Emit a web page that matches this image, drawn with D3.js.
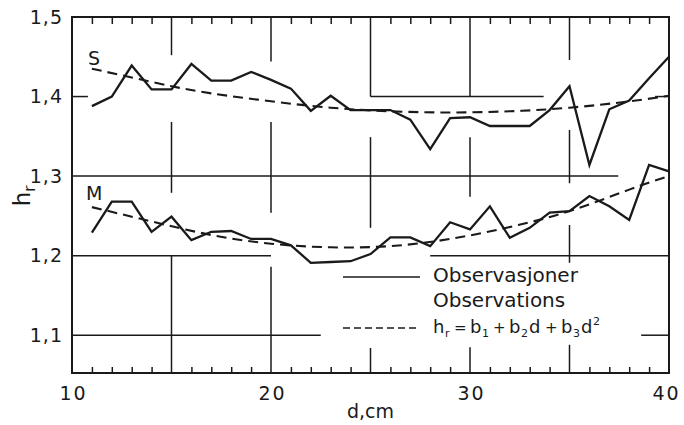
<!DOCTYPE html>
<html>
<head>
<meta charset="utf-8">
<script src="https://cdn.jsdelivr.net/npm/d3@7/dist/d3.min.js"></script>
<style>
  body { margin: 0; background: #fff; }
  svg { display: block; }
  text { font-family: "DejaVu Sans", sans-serif; fill: #1a1a1a; }
</style>
</head>
<body>
<svg id="chart" width="684" height="425"></svg>
<script>
// Diameter classes (cm) with observed ratio h_r
const diameters = [11,12,13,14,15,16,17,18,19,20,21,22,23,24,25,26,27,28,29,30,31,32,33,34,35,36,37,38,39,40];
const obsS = [1.388,1.400,1.439,1.409,1.409,1.441,1.420,1.420,1.431,1.421,1.410,1.382,1.401,1.383,1.383,1.383,1.371,1.334,1.373,1.374,1.363,1.363,1.363,1.383,1.413,1.314,1.384,1.395,1.423,1.450];
const obsM = [1.229,1.268,1.268,1.230,1.249,1.2195,1.230,1.231,1.221,1.221,1.213,1.191,1.192,1.193,1.202,1.223,1.223,1.212,1.242,1.233,1.262,1.2225,1.235,1.254,1.256,1.275,1.262,1.245,1.314,1.306];

// Fitted quadratic h_r = b1 + b2 d + b3 d^2, sampled along d
const fitSd = [11,13,15,17,20,23,26,29,32,35,38,40];
const fitS  = [1.435,1.424,1.413,1.404,1.394,1.386,1.3815,1.380,1.3815,1.386,1.394,1.401];
const fitMd = [11,14,17,20,23,26,29,32,35,38,40];
const fitM  = [1.261,1.243,1.226,1.215,1.2105,1.212,1.221,1.236,1.256,1.283,1.300];

const xTicks = [10,20,30,40];
const yTicks = [1.1,1.2,1.3,1.4,1.5];
const minorTicks = [11,12,13,14,16,17,18,19,21,22,23,24,26,27,28,29,31,32,33,34,36,37,38,39];

// Broken reference lines of the form: [h, d from, d to] and [d, h from, h to]
const hGrid = [
  [1.4, 10, 10.8], [1.4, 25, 33.7], [1.4, 39.3, 40],
  [1.3, 10, 37.45],
  [1.2, 10, 20], [1.2, 28, 40],
  [1.1, 10, 22.5], [1.1, 38.6, 40]
];
const yMin = 1.0525, yMax = 1.5;
const vGrid = [
  [15, 1.5, 1.452], [15, 1.368, 1.279], [15, 1.2, yMin],
  [20, 1.5, 1.444], [20, 1.368, 1.254], [20, 1.186, yMin],
  [25, 1.5, 1.4], [25, 1.349, 1.235], [25, 1.084, yMin],
  [30, 1.5, 1.4], [30, 1.349, 1.274], [30, 1.085, yMin],
  [35, 1.5, 1.446], [35, 1.358, 1.291], [35, 1.2385, 1.191], [35, 1.088, yMin]
];

const svg = d3.select("#chart");
const x = d3.scaleLinear().domain([10, 40]).range([72, 669]);
const y = d3.scaleLinear().domain([yMin, yMax]).range([373, 17]);
const ink = "#1a1a1a";

// reference lines
const grid = svg.append("g").attr("stroke", ink).attr("stroke-width", 1.5).attr("fill", "none");
grid.selectAll("line.h").data(hGrid).join("line").attr("class", "h")
  .attr("x1", d => x(d[1])).attr("x2", d => x(d[2]))
  .attr("y1", d => y(d[0])).attr("y2", d => y(d[0]));
grid.selectAll("line.v").data(vGrid).join("line").attr("class", "v")
  .attr("x1", d => x(d[0])).attr("x2", d => x(d[0]))
  .attr("y1", d => y(d[1])).attr("y2", d => y(d[2]));

// minor ticks, top and bottom, pointing inward
const tTop = svg.append("g").attr("transform", `translate(0,${y(yMax)})`)
  .call(d3.axisTop(x).tickValues(minorTicks).tickSize(-7).tickFormat(""));
const tBot = svg.append("g").attr("transform", `translate(0,${y(yMin)})`)
  .call(d3.axisBottom(x).tickValues(minorTicks).tickSize(-6).tickFormat(""));
[tTop, tBot].forEach(g => {
  g.select(".domain").remove();
  g.selectAll(".tick line").attr("stroke", ink).attr("stroke-width", 1.5);
});

// frame
svg.append("rect")
  .attr("x", x(10)).attr("y", y(yMax))
  .attr("width", x(40) - x(10)).attr("height", y(yMin) - y(yMax))
  .attr("fill", "none").attr("stroke", ink).attr("stroke-width", 2);

// tick labels
const yAxis = svg.append("g").attr("transform", `translate(${x(10)},0)`)
  .call(d3.axisLeft(y).tickValues(yTicks).tickSize(0).tickPadding(9)
    .tickFormat(d => d3.format(".1f")(d).replace(".", ",")));
const xAxis = svg.append("g").attr("transform", `translate(0,${y(yMin)})`)
  .call(d3.axisBottom(x).tickValues(xTicks).tickSize(0).tickPadding(14)
    .tickFormat(d3.format("d")));
[yAxis, xAxis].forEach(g => {
  g.select(".domain").remove();
  g.selectAll(".tick text").attr("font-size", 19).attr("fill", ink)
    .attr("letter-spacing", 1)
    .attr("font-family", '"DejaVu Sans", sans-serif');
});
xAxis.selectAll(".tick text").attr("letter-spacing", 2)
  .attr("dx", d => d === 40 ? -3 : 1);

// axis titles
svg.append("text").attr("x", x(25)).attr("y", 418).attr("text-anchor", "middle")
  .attr("font-size", 19).text("d,cm");
const yt = svg.append("text").attr("transform", `translate(30,${y(1.275)}) rotate(-90)`)
  .attr("text-anchor", "middle").attr("font-size", 23);
yt.append("tspan").text("h");
yt.append("tspan").attr("font-size", 15).attr("dy", 5).text("r");

// series
const line = d3.line().x(d => x(d[0])).y(d => y(d[1]));
const fitLine = d3.line().x(d => x(d[0])).y(d => y(d[1])).curve(d3.curveNatural);
const plot = svg.append("g").attr("fill", "none").attr("stroke", ink);

[obsS, obsM].forEach(vals => {
  plot.append("path").datum(diameters.map((d, i) => [d, vals[i]]))
    .attr("stroke-width", 2.3).attr("stroke-linejoin", "miter").attr("d", line);
});
[[fitSd, fitS], [fitMd, fitM]].forEach(([ds, vals]) => {
  plot.append("path").datum(ds.map((d, i) => [d, vals[i]]))
    .attr("stroke-width", 2.1).attr("stroke-dasharray", "10,6").attr("d", fitLine);
});

// series labels
svg.append("text").attr("x", 88).attr("y", 65).attr("font-size", 19).text("S");
svg.append("text").attr("x", 86).attr("y", 200).attr("font-size", 19).text("M");

// legend
const leg = svg.append("g");
leg.append("line").attr("x1", 343).attr("x2", 420).attr("y1", 277).attr("y2", 277)
  .attr("stroke", ink).attr("stroke-width", 1.7);
leg.append("line").attr("x1", 343).attr("x2", 420).attr("y1", 328).attr("y2", 328)
  .attr("stroke", ink).attr("stroke-width", 1.7).attr("stroke-dasharray", "7,4");
leg.append("text").attr("x", 433).attr("y", 282).attr("font-size", 20).text("Observasjoner");
leg.append("text").attr("x", 433).attr("y", 307).attr("font-size", 20).text("Observations");

// formula: [text, left x, size, baseline offset]
const formula = [
  ["h", 433, 18, 0], ["r", 445, 11, 4], ["=", 454, 15, 0], ["b", 470, 18, 0],
  ["1", 482, 11, 4], ["+", 493, 15, 0], ["b", 509, 18, 0], ["2", 521, 11, 4],
  ["d", 529, 18, 0], ["+", 545, 15, 0], ["b", 561, 18, 0], ["3", 573, 11, 4],
  ["d", 581, 18, 0], ["2", 593, 11, -8]
];
leg.selectAll("text.formula").data(formula).join("text").attr("class", "formula")
  .attr("x", d => d[1]).attr("y", d => 333 + d[3])
  .attr("font-size", d => d[2]).text(d => d[0]);
</script>
</body>
</html>
